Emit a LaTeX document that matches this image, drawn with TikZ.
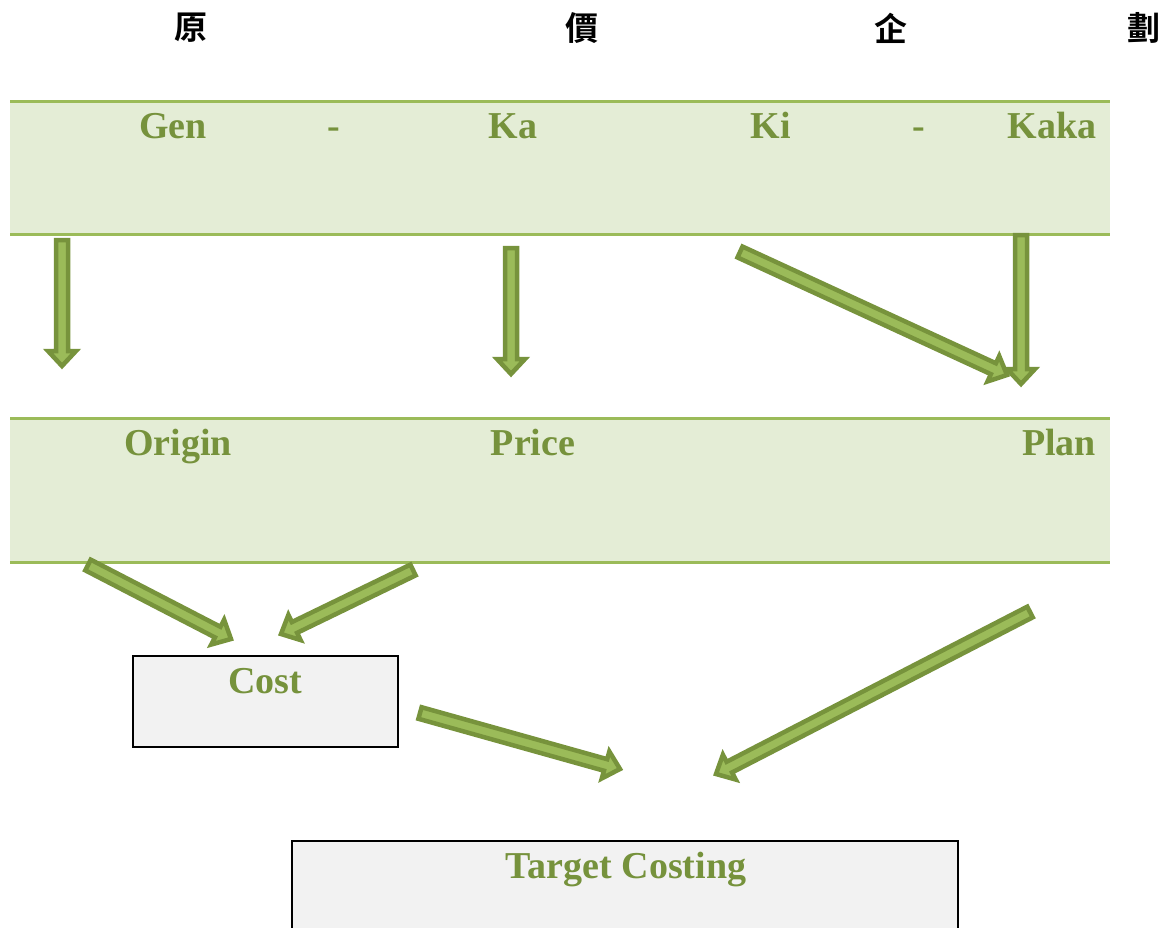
\documentclass[tikz,border=0pt]{standalone}
\usepackage{fontspec}
\setmainfont{Liberation Serif}
\newfontfamily\cjkfont{Noto Sans CJK TC Bold}
\usetikzlibrary{calc}
\definecolor{bandfill}{HTML}{E4EDD6}
\definecolor{bandline}{HTML}{9BBB59}
\definecolor{arrfill}{HTML}{9BBB59}
\definecolor{arrline}{HTML}{77933C}
\definecolor{txtgreen}{HTML}{76923C}
\definecolor{boxfill}{HTML}{F2F2F2}
\tikzset{
  bandtext/.style={anchor=base, inner sep=0pt, text=txtgreen, font=\fontsize{38}{40}\selectfont\bfseries},
  cjktext/.style={anchor=center, inner sep=0pt, text=black, font=\fontsize{33}{35}\selectfont\cjkfont},
  greybox/.style={draw=black, line width=2pt, fill=boxfill},
  blockarrow/.style={fill=arrfill, draw=arrline, line width=4.5pt, line join=miter},
}
\newcommand{\blkarrow}[2]{%
  \coordinate (ah) at ($(#2)!15pt!(#1)$);
  \filldraw[blockarrow] ($(#1)!6pt!90:(#2)$) -- ($(ah)!6pt!90:(#2)$) -- ($(ah)!14pt!90:(#2)$) -- (#2)
    -- ($(ah)!14pt!-90:(#2)$) -- ($(ah)!6pt!-90:(#2)$) -- ($(#1)!6pt!-90:(#2)$) -- cycle;
}
\begin{document}
\begin{tikzpicture}[x=1pt,y=-1pt]
\useasboundingbox (0,0) rectangle (1169,928);
\clip (0,0) rectangle (1169,928);
% CJK title
\node[cjktext] (c1) at (191,28) {原};
\node[cjktext] (c2) at (582,28) {價};
\node[cjktext] (c3) at (891,28) {企};
\node[cjktext] (c4) at (1144,28) {劃};
% band 1
\fill[bandfill] (10,102) rectangle (1110,234);
\draw[bandline, line width=3pt] (10,102) -- (1110,102) (10,234) -- (1110,234);
\node[bandtext] (gen) at (173,139) {Gen};
\node[bandtext] (d1) at (334,139) {-};
\node[bandtext] (ka) at (513,139) {Ka};
\node[bandtext] (ki) at (771,139) {Ki};
\node[bandtext] (d2) at (919,139) {-};
\node[bandtext] (kaka) at (1052,139) {Kaka};
% band 2
\fill[bandfill] (10,418) rectangle (1110,562);
\draw[bandline, line width=3pt] (10,418) -- (1110,418) (10,562) -- (1110,562);
\node[bandtext] (origin) at (178,455) {Origin};
\node[bandtext] (price) at (533,455) {Price};
\node[bandtext] (plan) at (1059,455) {Plan};
% boxes
\draw[greybox] (133,656) rectangle (398,747);
\node[bandtext] (cost) at (265,693) {Cost};
\draw[greybox] (292,841) rectangle (958,940);
\node[bandtext] (tc) at (626,878) {Target Costing};
% arrows
\coordinate (a1s) at (62,240);  \coordinate (a1e) at (62,366);
\coordinate (a2s) at (511,248); \coordinate (a2e) at (511,374);
\coordinate (a3s) at (740,252); \coordinate (a3e) at (1007,375);
\coordinate (a4s) at (1021,235); \coordinate (a4e) at (1021,384);
\coordinate (a5s) at (88,565);  \coordinate (a5e) at (231,639);
\coordinate (a6s) at (413,570); \coordinate (a6e) at (281,634);
\coordinate (a7s) at (420,713); \coordinate (a7e) at (620,769);
\coordinate (a8s) at (1030,612); \coordinate (a8e) at (716,774);
\blkarrow{a1s}{a1e}
\blkarrow{a2s}{a2e}
\blkarrow{a3s}{a3e}
\blkarrow{a4s}{a4e}
\blkarrow{a5s}{a5e}
\blkarrow{a6s}{a6e}
\blkarrow{a7s}{a7e}
\blkarrow{a8s}{a8e}
\end{tikzpicture}
\end{document}
